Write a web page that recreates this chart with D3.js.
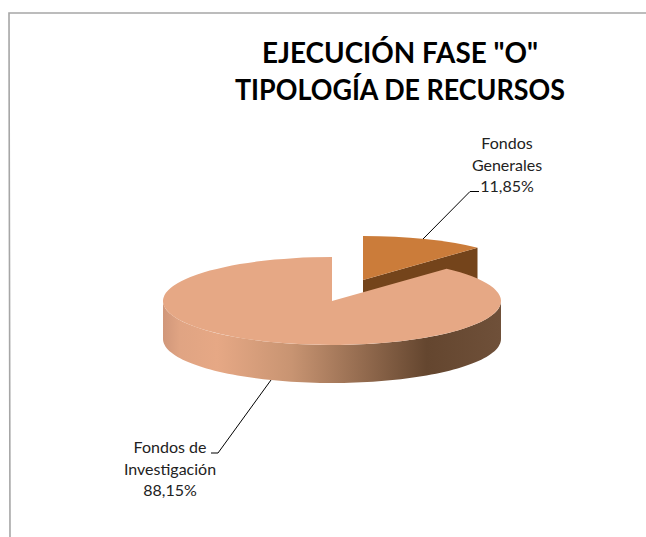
<!DOCTYPE html>
<html>
<head>
<meta charset="utf-8">
<script src="https://cdn.jsdelivr.net/npm/d3@7"></script>
<style>
  html, body { margin: 0; padding: 0; background: #fff; }
  svg { display: block; }
  text { font-family: Lato, "Open Sans", sans-serif; }
</style>
</head>
<body>
<div id="chart"></div>
<script>
var titleLines = ['EJECUCIÓN FASE "O"', 'TIPOLOGÍA DE RECURSOS']
var categories = ["Fondos Generales", "Fondos de Investigación"]
var shares = [11.85, 88.15]
var shareLabels = ["11,85%", "88,15%"]
var labelLines = [["Fondos", "Generales"], ["Fondos de", "Investigación"]]
var sliceColors = ["#cb7c3a", "#e6a885"]

var width = 646
var height = 537

// pie seen from above, squashed into an ellipse
var cx = 332, cy = 301
var rx = 169, ry = 44
var depth = 38
var explode = { x: 31, y: -21 }

var svg = d3.select("#chart")
    .append("svg")
    .attr("width", width)
    .attr("height", height)

// frame of the original chart, only top and left show
svg.append("path")
    .attr("d", "M646,13 L9,13 L10,537")
    .attr("fill", "none")
    .attr("stroke", "#a6a6a6")
    .attr("stroke-width", 1.6)

// gradient lives in the coordinates of the pie group
var grad = svg.append("defs").append("linearGradient")
    .attr("id", "wall")
    .attr("gradientUnits", "userSpaceOnUse")
    .attr("x1", -rx).attr("x2", rx)
    .attr("y1", 0).attr("y2", 0)

var wallStops = [
    [0, "#d0977a"], [0.05, "#e0a483"], [0.16, "#e6a885"], [0.38, "#c89472"],
    [0.78, "#64462f"], [1, "#6f5039"]
]
grad.selectAll("stop")
    .data(wallStops)
    .join("stop")
    .attr("offset", d => d[0])
    .attr("stop-color", d => d[1])

var pie = d3.pie().sort(null).value(d => d)
var slices = pie(shares)

// d3 angles run clockwise from 12 o'clock
var px = a => rx * Math.sin(a)
var py = a => -ry * Math.cos(a)

var arc = d3.arc().innerRadius(0).outerRadius(1)

// small slice, pulled out to the upper right
var small = slices[0]
var smallG = svg.append("g")
    .attr("transform", `translate(${cx + explode.x},${cy + explode.y})`)

// cut face turned to the viewer
smallG.append("path")
    .attr("d", d3.line()([
        [0, 0],
        [px(small.endAngle), py(small.endAngle)],
        [px(small.endAngle), py(small.endAngle) + depth],
        [0, depth]
    ]))
    .attr("fill", "#74441b")

smallG.append("path")
    .attr("transform", `scale(${rx},${ry})`)
    .attr("d", arc(small))
    .attr("fill", sliceColors[0])

// big slice
var big = slices[1]
var bigG = svg.append("g")
    .attr("transform", `translate(${cx},${cy})`)

// outer wall, front half of the ellipse
var frontAngles = d3.range(90, 270.5, 2).map(d => d * Math.PI / 180)
var wallPoints = frontAngles.map(a => [px(a), py(a)])
    .concat(frontAngles.slice().reverse().map(a => [px(a), py(a) + depth]))

bigG.append("path")
    .attr("d", d3.line().curve(d3.curveLinearClosed)(wallPoints))
    .attr("fill", "url(#wall)")

bigG.append("path")
    .attr("transform", `scale(${rx},${ry})`)
    .attr("d", arc(big))
    .attr("fill", sliceColors[1])

// leader lines
var leaders = [
    [[423, 239], [470, 191.5], [479, 191.5]],
    [[271, 380], [218, 453], [211, 453]]
]
svg.append("g")
    .selectAll("path")
    .data(leaders)
    .join("path")
    .attr("d", d => d3.line()(d))
    .attr("fill", "none")
    .attr("stroke", "#000")
    .attr("stroke-width", 1)

// title, squeezed to the width it has in the original
var titleWidths = [276, 330]
svg.append("g")
    .selectAll("text")
    .data(titleLines)
    .join("text")
    .attr("x", 400)
    .attr("y", (d, i) => 63 + i * 37)
    .attr("text-anchor", "middle")
    .attr("font-size", 28)
    .attr("font-weight", 700)
    .attr("fill", "#000")
    .attr("textLength", (d, i) => titleWidths[i])
    .attr("lengthAdjust", "spacingAndGlyphs")
    .text(d => d)

// data labels
var labelPos = [{ x: 507, y: 149 }, { x: 170, y: 453 }]
var labels = svg.append("g")
    .selectAll("text")
    .data(categories)
    .join("text")
    .attr("text-anchor", "middle")
    .attr("font-size", 16)
    .attr("fill", "#222")

labels.selectAll("tspan")
    .data((d, i) => labelLines[i].concat(shareLabels[i]).map(t => ({ t: t, i: i })))
    .join("tspan")
    .attr("x", d => labelPos[d.i].x)
    .attr("y", (d, j) => labelPos[d.i].y + j * 21.5)
    .text(d => d.t)
</script>
</body>
</html>
